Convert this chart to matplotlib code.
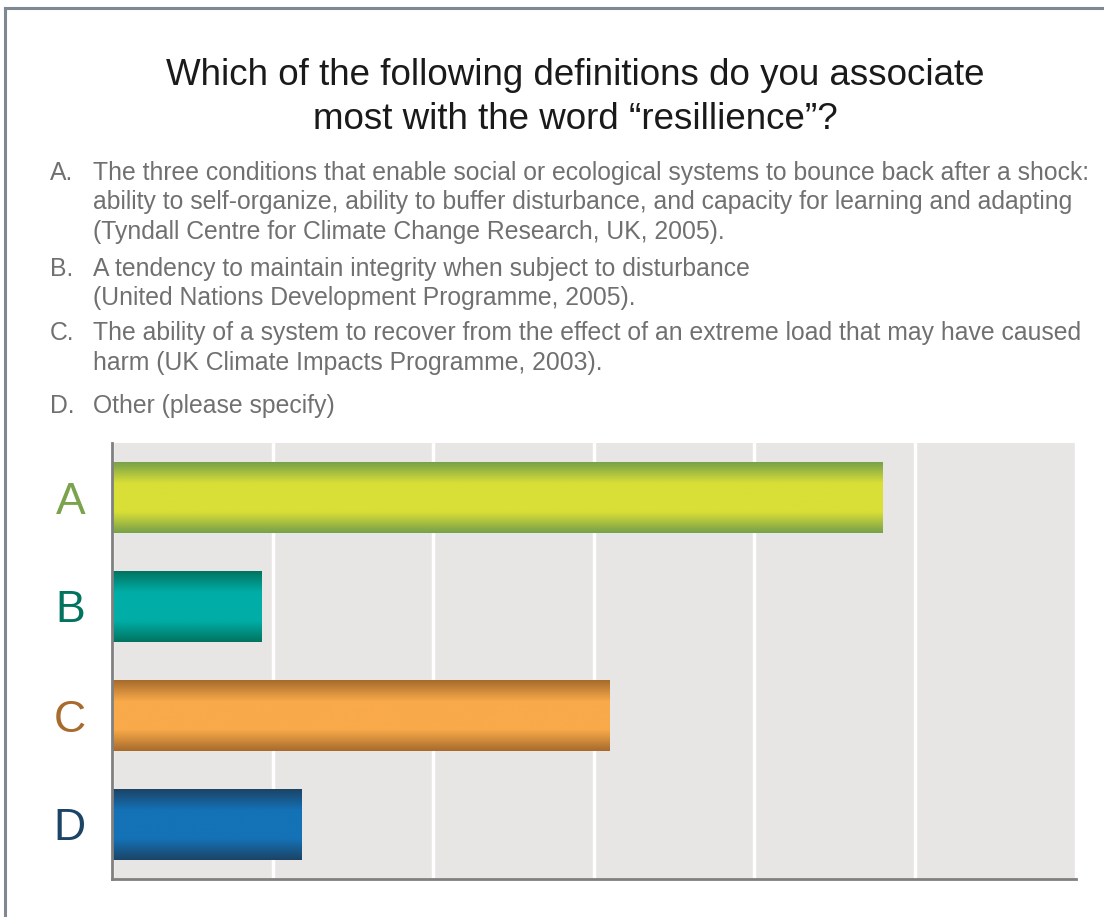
"""
Horizontal bar chart of survey answers: which definition of "resilience"
people associate most with the word. Bars are shaded with a vertical
gradient (dark edges, bright middle).
"""

import numpy as np
import matplotlib.pyplot as plt
from matplotlib.colors import LinearSegmentedColormap
from matplotlib.patches import Rectangle

plt.rcParams["font.family"] = ["Liberation Sans", "DejaVu Sans"]

# answer options and share of responses (grid units)
categories = ["A", "B", "C", "D"]
values = [4.80, 0.93, 3.10, 1.18]

# dark edge / bright centre colour for each bar, and label colour
edge_colors = ["#76a04a", "#00735f", "#a66a2c", "#1c4466"]
mid_colors = ["#dadf37", "#00aea7", "#f9aa4a", "#1472b6"]
label_colors = ["#7aa34c", "#00745f", "#a86b2e", "#1c4466"]

title_lines = [
    "Which of the following definitions do you associate",
    "most with the word \u201cresillience\u201d?",
]

definitions = [
    ("A.", [
        "The three conditions that enable social or ecological systems to bounce back after a shock:",
        "ability to self-organize, ability to buffer disturbance, and capacity for learning and adapting",
        "(Tyndall Centre for Climate Change Research, UK, 2005).",
    ]),
    ("B.", [
        "A tendency to maintain integrity when subject to disturbance",
        "(United Nations Development Programme, 2005).",
    ]),
    ("C.", [
        "The ability of a system to recover from the effect of an extreme load that may have caused",
        "harm (UK Climate Impacts Programme, 2003).",
    ]),
    ("D.", [
        "Other (please specify)",
    ]),
]

W, H = 1104, 917
fig = plt.figure(figsize=(W / 100, H / 100), dpi=100)
fig.patch.set_facecolor("white")


def fx(px):
    return px / W


def fy(py):
    return 1 - py / H


# frame lines along the top and left
fig.add_artist(plt.Line2D([fx(5), 1], [fy(7.5), fy(7.5)], color="#7d8893", lw=2.2))
fig.add_artist(plt.Line2D([fx(5), fx(5)], [fy(7.5), 0], color="#7d8893", lw=2.2))

# title
fig.text(fx(575), fy(85), title_lines[0], ha="center", va="baseline",
         fontsize=26.5, color="#1a1a1a")
fig.text(fx(575), fy(129), title_lines[1], ha="center", va="baseline",
         fontsize=26.5, color="#1a1a1a")

# definition list
baselines = [[180, 209, 239], [276, 305], [340, 370], [413]]
for (letter, lines), ys in zip(definitions, baselines):
    fig.text(fx(50), fy(ys[0]), letter, ha="left", va="baseline",
             fontsize=17.8, color="#707070")
    for line, y in zip(lines, ys):
        fig.text(fx(93), fy(y), line, ha="left", va="baseline",
                 fontsize=17.8, color="#707070")

ax = fig.add_axes([fx(112), fy(879), fx(1075.5) - fx(112), fy(443) - fy(879)])
ax.set_facecolor("#e8e6e4")
ax.set_xlim(0, 6)
ax.set_ylim(3.5, -0.5)
ax.set_xticks(range(0, 7))
ax.set_xticklabels([])
ax.grid(axis="x", color="white", lw=2.5)
ax.set_axisbelow(True)

y_pos = np.arange(len(categories))
bar_h = 0.645
bars = ax.barh(y_pos, values, height=bar_h, color="none", zorder=2)

# vertical gradient fill clipped to each bar
grad = np.linspace(0, 1, 256).reshape(-1, 1)
for bar, dark, bright in zip(bars, edge_colors, mid_colors):
    cmap = LinearSegmentedColormap.from_list(
        "bar", [(0, dark), (0.3, bright), (0.7, bright), (1, dark)])
    x0, y0 = bar.get_x(), bar.get_y()
    w, h = bar.get_width(), bar.get_height()
    im = ax.imshow(grad, cmap=cmap, aspect="auto", extent=(x0, x0 + w, y0 + h, y0),
                   interpolation="bicubic", zorder=3)
    clip = Rectangle((x0, y0), w, h, transform=ax.transData)
    im.set_clip_path(clip)

ax.set_xlim(0, 6)
ax.set_ylim(3.5, -0.5)

ax.set_yticks(y_pos)
ax.set_yticklabels(categories, fontsize=32)
for lbl, c in zip(ax.get_yticklabels(), label_colors):
    lbl.set_color(c)
ax.tick_params(axis="both", length=0)
ax.tick_params(axis="y", pad=19)

for side in ["top", "right"]:
    ax.spines[side].set_visible(False)
for side in ["left", "bottom"]:
    ax.spines[side].set_color("#808080")
    ax.spines[side].set_linewidth(2)
    ax.spines[side].set_zorder(4)

fig.savefig("out.png", dpi=100, facecolor="white")
